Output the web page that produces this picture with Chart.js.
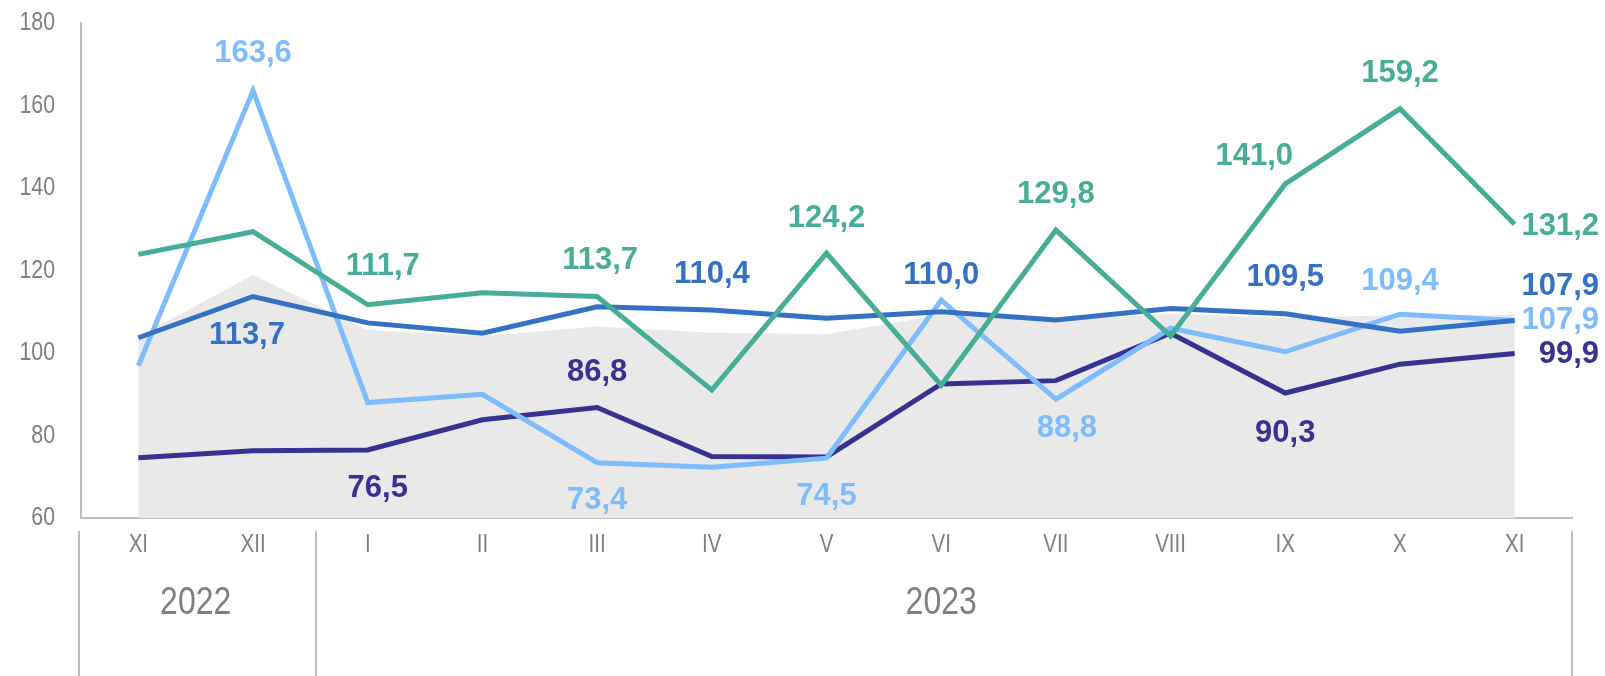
<!DOCTYPE html>
<html>
<head>
<meta charset="utf-8">
<script src="https://cdn.jsdelivr.net/npm/chart.js@4.4.1/dist/chart.umd.min.js"></script>
<style>
  html, body { margin: 0; padding: 0; background: #fff; }
  #wrap { position: relative; width: 1605px; height: 676px; }
</style>
</head>
<body>
<div id="wrap"><canvas id="chart"></canvas></div>
<script>
// months (Nov 2022 – Nov 2023)
const MONTHS = ['XI', 'XII', 'I', 'II', 'III', 'IV', 'V', 'VI', 'VII', 'VIII', 'IX', 'X', 'XI'];
const YEARS = ['2022', '2023'];
const YEAR_SPANS = [[0, 1], [2, 12]];   // month index ranges per year
const Y_TICKS = [60, 80, 100, 120, 140, 160, 180];

const seriesGreen = [123.9, 129.4, 111.7, 114.6, 113.7, 91.0, 124.2, 92.2, 129.8, 104.1, 141.0, 159.2, 131.2];
const seriesBlue  = [103.7, 113.7, 107.3, 104.8, 111.2, 110.4, 108.4, 110.0, 108.0, 110.8, 109.5, 105.3, 107.9];
const seriesLight = [96.9, 163.6, 88.0, 90.0, 73.4, 72.3, 74.5, 112.8, 88.8, 106.0, 100.3, 109.4, 107.9];
const seriesNavy  = [74.6, 76.3, 76.5, 83.8, 86.8, 74.9, 74.8, 92.5, 93.3, 104.8, 90.3, 97.3, 99.9];
const seriesArea  = [104.0, 118.9, 105.6, 104.1, 106.4, 104.9, 104.6, 109.2, 107.8, 109.5, 108.5, 109.2, 109.3];

const GREEN = '#47AD97';
const BLUE  = '#3471C4';
const LIGHT = '#7EBCFD';
const NAVY  = '#37318F';
const AREA  = '#E9E9E9';
const AXIS  = '#BFBFBF';
const TEXT  = '#7F7F7F';
const SANS = '"Liberation Sans", Arial, sans-serif';
const NARROW_X = 0.82;   // horizontal squeeze to imitate Arial Narrow

// label placement per point: [dx, dy] from the point, 'R' = right-aligned at the edge with dy
const LABELS = {
    0: { 2: [15, -38], 4: [3, -36], 6: [0, -35], 8: [0, -36], 10: [-31, -27], 11: [0, -35], 12: ['R', 2] },
    1: { 1: [-6, 39], 5: [0, -36], 7: [0, -36], 10: [0, -36], 12: ['R', -34] },
    2: { 1: [0, -37], 4: [0, 38], 6: [0, 38], 8: [11, 29], 11: [0, -33], 12: ['R', 0] },
    3: { 2: [10, 39], 4: [0, -35], 10: [0, 40], 12: ['R', 1] },
};

const fmt = v => v.toFixed(1).replace('.', ',');

function narrowText(ctx, txt, x, y, size, align) {
    ctx.save();
    ctx.font = size + 'px ' + SANS;
    ctx.textBaseline = 'middle';
    ctx.textAlign = align;
    ctx.translate(x, y);
    ctx.scale(NARROW_X, 1);
    ctx.fillText(txt, 0, 0);
    ctx.restore();
}

const valueLabels = {
    id: 'valueLabels',
    afterDatasetsDraw(chart) {
        const ctx = chart.ctx;
        ctx.save();
        ctx.font = 'bold 31px ' + SANS;
        ctx.textBaseline = 'middle';
        Object.keys(LABELS).forEach(di => {
            const ds = chart.data.datasets[di];
            const meta = chart.getDatasetMeta(di);
            ctx.fillStyle = ds.borderColor;
            Object.keys(LABELS[di]).forEach(i => {
                const [dx, dy] = LABELS[di][i];
                const pt = meta.data[i];
                const txt = fmt(ds.data[i]);
                if (dx === 'R') {
                    ctx.textAlign = 'right';
                    ctx.fillText(txt, chart.width - 6, pt.y + dy);
                } else {
                    ctx.textAlign = 'center';
                    ctx.fillText(txt, pt.x + dx, pt.y + dy);
                }
            });
        });
        ctx.restore();
    }
};

// tick labels, year row and separators
const axisText = {
    id: 'axisText',
    afterDraw(chart) {
        const ctx = chart.ctx;
        const x = chart.scales.x;
        const y = chart.scales.y;
        ctx.save();
        ctx.fillStyle = TEXT;
        Y_TICKS.forEach(v => narrowText(ctx, String(v), 55, y.getPixelForValue(v), 26, 'right'));
        MONTHS.forEach((m, i) => narrowText(ctx, m, x.getPixelForValue(i), 545, 25, 'center'));

        const half = (x.getPixelForValue(1) - x.getPixelForValue(0)) / 2;
        ctx.strokeStyle = AXIS;
        ctx.lineWidth = 2;
        const edges = [x.getPixelForValue(0) - half - 2];
        YEAR_SPANS.forEach((s, k) => edges.push(x.getPixelForValue(s[1]) + half + (k === 0 ? 6 : 0)));
        edges.forEach(e => {
            ctx.beginPath();
            ctx.moveTo(Math.round(e), 531);
            ctx.lineTo(Math.round(e), chart.height);
            ctx.stroke();
        });
        YEARS.forEach((yr, k) => {
            const s = YEAR_SPANS[k];
            const cx = (x.getPixelForValue(s[0]) + x.getPixelForValue(s[1])) / 2;
            narrowText(ctx, yr, cx, 603, 39, 'center');
        });
        ctx.restore();
    }
};

const lineDs = (label, data, color) => ({
    label, data,
    borderColor: color,
    backgroundColor: color,
    borderWidth: 5,
    pointRadius: 0,
    tension: 0,
    fill: false,
});

new Chart(document.getElementById('chart'), {
    type: 'line',
    data: {
        labels: MONTHS,
        datasets: [
            lineDs('green', seriesGreen, GREEN),
            lineDs('blue', seriesBlue, BLUE),
            lineDs('light', seriesLight, LIGHT),
            lineDs('navy', seriesNavy, NAVY),
            {
                label: 'area',
                data: seriesArea,
                borderWidth: 0,
                pointRadius: 0,
                backgroundColor: AREA,
                fill: 'start',
                tension: 0,
            },
        ]
    },
    options: {
        responsive: true,
        maintainAspectRatio: false,
        animation: false,
        layout: { padding: { top: 23, right: 33, left: 0, bottom: 0 } },
        plugins: {
            legend: { display: false },
            tooltip: { enabled: false },
        },
        scales: {
            x: {
                offset: true,
                grid: { display: false, drawTicks: false },
                border: { color: AXIS, width: 2 },
                ticks: { display: false },
                afterFit: s => { s.height = 158; },
            },
            y: {
                min: 60,
                max: 180,
                afterBuildTicks: s => { s.ticks = Y_TICKS.map(v => ({ value: v })); },
                grid: { display: false, drawTicks: false },
                border: { color: AXIS, width: 2 },
                ticks: { display: false },
                afterFit: s => { s.width = 81; },
            }
        }
    },
    plugins: [valueLabels, axisText]
});
</script>
</body>
</html>
